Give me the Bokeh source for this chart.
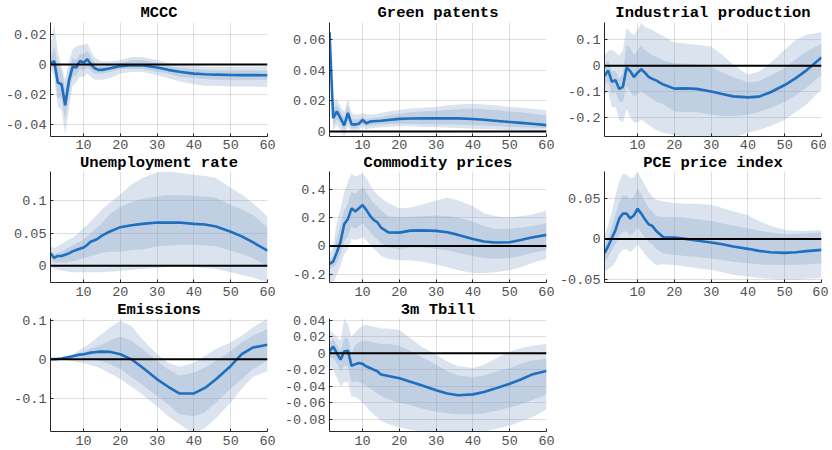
from bokeh.plotting import figure
from bokeh.layouts import gridplot
from bokeh.models import Range1d, FixedTicker, Span
from bokeh.embed import file_html
from bokeh.resources import INLINE

# ---------------- data ----------------
HORIZON = [1, 2, 3, 4, 5, 6, 7, 8, 9, 10, 11, 12, 13, 14, 15,
           17, 20, 23, 26, 30, 33, 36, 40, 43, 46, 50, 53, 56, 60]
X_TICKS = [10, 20, 30, 40, 50, 60]

TITLES = ["MCCC", "Green patents", "Industrial production", "Unemployment rate",
          "Commodity prices", "PCE price index", "Emissions", "3m Tbill"]

# MCCC
mccc_mid = [0.0007, 0.0024, -0.012, -0.013, -0.027, -0.011, -0.0015, -0.002, 0.0024, 0.0013, 0.0035, 0.0002, -0.0024, -0.0035, -0.0035,
            -0.0026, -0.001, -0.0005, -0.0005, -0.002, -0.0035, -0.0048, -0.006, -0.0064, -0.0067, -0.0069, -0.007, -0.007, -0.0071]
mccc_out_hi = [0.012, 0.027, 0.008, -0.001, -0.010, 0.002, 0.010, 0.012, 0.013, 0.013, 0.014, 0.009, 0.005, 0.003, 0.002,
               0.002, 0.003, 0.005, 0.005, 0.003, 0.001, 0.000, -0.001, -0.0015, -0.0015, -0.0015, -0.0015, -0.0015, -0.001]
mccc_in_hi = [0.004, 0.012, 0.000, -0.004, -0.016, -0.004, 0.004, 0.003, 0.007, 0.007, 0.009, 0.005, 0.001, -0.001, -0.001,
              -0.0005, 0.001, 0.003, 0.003, 0.001, -0.001, -0.002, -0.003, -0.0035, -0.004, -0.004, -0.004, -0.004, -0.004]
mccc_in_lo = [-0.001, -0.003, -0.022, -0.022, -0.037, -0.020, -0.008, -0.007, -0.003, -0.004, -0.002, -0.004, -0.006, -0.006, -0.006,
              -0.005, -0.003, -0.003, -0.003, -0.005, -0.006, -0.008, -0.009, -0.0095, -0.010, -0.010, -0.010, -0.010, -0.010]
mccc_out_lo = [-0.003, -0.008, -0.028, -0.030, -0.046, -0.030, -0.014, -0.012, -0.008, -0.008, -0.006, -0.008, -0.010, -0.010, -0.010,
               -0.009, -0.006, -0.005, -0.005, -0.007, -0.009, -0.011, -0.013, -0.014, -0.014, -0.0145, -0.0145, -0.0145, -0.015]
mccc_yticks = [-0.04, -0.02, 0, 0.02]
mccc_ylabels = ["-0.04", "-0.02", "0", "0.02"]
mccc_ylim = (-0.0477, 0.0279)

# Green patents
green_mid = [0.0647, 0.0086, 0.013, 0.0086, 0.004, 0.012, 0.0046, 0.0046, 0.005, 0.0075, 0.0053, 0.0064, 0.0066, 0.0068, 0.007,
             0.0075, 0.0082, 0.0084, 0.0085, 0.0085, 0.0085, 0.0085, 0.0081, 0.0076, 0.007, 0.0062, 0.0056, 0.005, 0.0041]
green_out_hi = [0.066, 0.021, 0.021, 0.016, 0.013, 0.021, 0.012, 0.011, 0.011, 0.012, 0.011, 0.011, 0.011, 0.0115, 0.012,
                0.013, 0.014, 0.015, 0.0155, 0.016, 0.017, 0.0175, 0.018, 0.0175, 0.017, 0.016, 0.0155, 0.0148, 0.0138]
green_in_hi = [0.0655, 0.015, 0.017, 0.013, 0.009, 0.017, 0.008, 0.008, 0.008, 0.0095, 0.008, 0.0085, 0.0088, 0.009, 0.0093,
               0.0105, 0.0115, 0.0125, 0.013, 0.0135, 0.014, 0.0145, 0.0148, 0.0145, 0.014, 0.013, 0.0125, 0.0115, 0.0105]
green_in_lo = [0.064, 0.004, 0.008, 0.005, 0.001, 0.007, 0.002, 0.002, 0.003, 0.005, 0.003, 0.004, 0.004, 0.0045, 0.0045,
               0.0048, 0.005, 0.005, 0.0048, 0.0045, 0.0045, 0.0045, 0.004, 0.0038, 0.0035, 0.003, 0.0028, 0.0025, 0.0022]
green_out_lo = [0.063, 0.001, 0.004, 0.001, -0.003, 0.003, 0.000, 0.000, 0.001, 0.003, 0.001, 0.002, 0.002, 0.0025, 0.0027,
                0.003, 0.0033, 0.0033, 0.003, 0.0028, 0.0025, 0.0022, 0.0018, 0.0015, 0.0012, 0.0008, 0.0005, 0.0002, 0.0]
green_yticks = [0, 0.02, 0.04, 0.06]
green_ylabels = ["0", "0.02", "0.04", "0.06"]
green_ylim = (-0.0033, 0.071)

# Industrial production
ip_mid = [-0.040, -0.018, -0.062, -0.056, -0.090, -0.082, -0.008, -0.021, -0.044, -0.027, -0.014, -0.027, -0.043, -0.051, -0.057,
          -0.073, -0.089, -0.088, -0.090, -0.100, -0.110, -0.119, -0.123, -0.120, -0.104, -0.075, -0.048, -0.017, 0.032]
ip_out_hi = [0.043, 0.057, 0.062, 0.05, 0.04, 0.06, 0.147, 0.13, 0.12, 0.14, 0.166, 0.15, 0.145, 0.14, 0.13,
             0.115, 0.09, 0.086, 0.082, 0.075, 0.043, 0.004, -0.035, -0.022, 0.01, 0.062, 0.1, 0.12, 0.13]
ip_in_hi = [0.0, 0.02, -0.02, -0.02, -0.05, -0.03, 0.08, 0.07, 0.04, 0.06, 0.08, 0.06, 0.05, 0.04, 0.035,
            0.02, 0.01, 0.008, 0.005, -0.005, -0.025, -0.045, -0.065, -0.06, -0.04, -0.01, 0.025, 0.055, 0.085]
ip_in_lo = [-0.08, -0.06, -0.11, -0.10, -0.14, -0.14, -0.08, -0.10, -0.12, -0.11, -0.10, -0.11, -0.12, -0.13, -0.14,
            -0.15, -0.178, -0.18, -0.18, -0.19, -0.195, -0.195, -0.19, -0.18, -0.165, -0.14, -0.115, -0.085, -0.035]
ip_out_lo = [-0.11, -0.10, -0.16, -0.16, -0.21, -0.22, -0.17, -0.20, -0.22, -0.22, -0.21, -0.22, -0.23, -0.24, -0.25,
             -0.26, -0.27, -0.275, -0.28, -0.285, -0.285, -0.28, -0.26, -0.25, -0.235, -0.21, -0.18, -0.15, -0.09]
ip_yticks = [-0.2, -0.1, 0, 0.1]
ip_ylabels = ["-0.2", "-0.1", "0", "0.1"]
ip_ylim = (-0.275, 0.168)

# Unemployment rate
un_mid = [0.019, 0.012, 0.015, 0.015, 0.017, 0.019, 0.022, 0.024, 0.026, 0.028, 0.032, 0.037, 0.039, 0.042, 0.046,
          0.052, 0.059, 0.062, 0.064, 0.066, 0.066, 0.066, 0.064, 0.063, 0.060, 0.052, 0.045, 0.036, 0.023]
un_out_hi = [0.03, 0.027, 0.03, 0.033, 0.037, 0.04, 0.043, 0.047, 0.052, 0.058, 0.062, 0.068, 0.074, 0.08, 0.086,
             0.096, 0.109, 0.124, 0.134, 0.143, 0.144, 0.142, 0.139, 0.137, 0.134, 0.119, 0.109, 0.096, 0.075]
un_in_hi = [0.022, 0.018, 0.02, 0.022, 0.025, 0.028, 0.031, 0.034, 0.037, 0.04, 0.045, 0.05, 0.055, 0.06, 0.065,
            0.078, 0.09, 0.097, 0.102, 0.106, 0.108, 0.108, 0.107, 0.106, 0.104, 0.093, 0.086, 0.078, 0.058]
un_in_lo = [0.012, 0.005, 0.005, 0.005, 0.005, 0.006, 0.007, 0.008, 0.01, 0.012, 0.013, 0.015, 0.016, 0.018, 0.02,
            0.021, 0.022, 0.024, 0.025, 0.03, 0.031, 0.032, 0.032, 0.031, 0.03, 0.023, 0.018, 0.012, -0.001]
un_out_lo = [0.0, -0.005, -0.006, -0.007, -0.008, -0.009, -0.01, -0.01, -0.01, -0.01, -0.01, -0.01, -0.01, -0.01, -0.01,
             -0.009, -0.008, -0.006, -0.005, -0.003, -0.002, -0.002, -0.002, -0.003, -0.005, -0.01, -0.014, -0.018, -0.025]
un_yticks = [0, 0.05, 0.1]
un_ylabels = ["0", "0.05", "0.1"]
un_ylim = (-0.0255, 0.144)

# Commodity prices
cp_mid = [-0.127, -0.11, -0.045, 0.03, 0.153, 0.19, 0.265, 0.242, 0.265, 0.289, 0.254, 0.214, 0.183, 0.167, 0.129,
          0.096, 0.094, 0.108, 0.11, 0.106, 0.096, 0.078, 0.049, 0.031, 0.024, 0.026, 0.042, 0.059, 0.078]
cp_out_hi = [-0.06, 0.0, 0.17, 0.26, 0.38, 0.45, 0.51, 0.49, 0.50, 0.51, 0.48, 0.43, 0.39, 0.36, 0.34,
             0.30, 0.265, 0.27, 0.29, 0.32, 0.34, 0.32, 0.28, 0.23, 0.21, 0.20, 0.21, 0.22, 0.25]
cp_in_hi = [-0.1, -0.07, 0.05, 0.15, 0.25, 0.30, 0.38, 0.37, 0.39, 0.41, 0.38, 0.34, 0.30, 0.28, 0.25,
            0.21, 0.20, 0.205, 0.21, 0.215, 0.21, 0.20, 0.17, 0.14, 0.12, 0.12, 0.13, 0.14, 0.16]
cp_in_lo = [-0.16, -0.15, -0.12, -0.06, 0.03, 0.07, 0.14, 0.12, 0.14, 0.16, 0.13, 0.10, 0.07, 0.05, 0.02,
            -0.01, -0.02, -0.01, -0.01, -0.02, -0.03, -0.05, -0.07, -0.085, -0.09, -0.085, -0.07, -0.05, -0.03]
cp_out_lo = [-0.26, -0.26, -0.20, -0.14, -0.06, -0.02, 0.05, 0.04, 0.05, 0.06, 0.04, 0.01, -0.02, -0.04, -0.07,
             -0.09, -0.10, -0.10, -0.11, -0.13, -0.15, -0.17, -0.19, -0.19, -0.185, -0.17, -0.15, -0.12, -0.09]
cp_yticks = [-0.2, 0, 0.2, 0.4]
cp_ylabels = ["-0.2", "0", "0.2", "0.4"]
cp_ylim = (-0.257, 0.524)

# PCE price index
pce_mid = [-0.0175, -0.009, 0.001, 0.011, 0.025, 0.031, 0.031, 0.025, 0.029, 0.037, 0.031, 0.024, 0.018, 0.016, 0.010,
           0.002, 0.0016, 0.0, -0.002, -0.0045, -0.0065, -0.0094, -0.0122, -0.0147, -0.0163, -0.0171, -0.0163, -0.015, -0.0135]
pce_out_hi = [0.005, 0.017, 0.033, 0.054, 0.07, 0.08, 0.079, 0.074, 0.076, 0.082, 0.074, 0.066, 0.058, 0.052, 0.048,
              0.046, 0.044, 0.043, 0.043, 0.042, 0.038, 0.034, 0.029, 0.022, 0.016, 0.011, 0.01, 0.01, 0.011]
pce_in_hi = [-0.008, 0.002, 0.015, 0.03, 0.045, 0.053, 0.053, 0.048, 0.052, 0.062, 0.055, 0.046, 0.038, 0.034, 0.028,
             0.027, 0.027, 0.026, 0.024, 0.022, 0.019, 0.016, 0.013, 0.010, 0.008, 0.006, 0.006, 0.007, 0.008]
pce_in_lo = [-0.028, -0.022, -0.014, -0.006, 0.004, 0.009, 0.009, 0.004, 0.008, 0.014, 0.008, 0.002, -0.004, -0.007, -0.012,
             -0.018, -0.0196, -0.021, -0.022, -0.024, -0.026, -0.028, -0.030, -0.031, -0.032, -0.032, -0.032, -0.031, -0.030]
pce_out_lo = [-0.04, -0.037, -0.034, -0.028, -0.018, -0.013, -0.013, -0.016, -0.012, -0.007, -0.013, -0.019, -0.024, -0.028, -0.032,
              -0.031, -0.032, -0.034, -0.036, -0.038, -0.041, -0.044, -0.046, -0.048, -0.049, -0.05, -0.05, -0.049, -0.048]
pce_yticks = [-0.05, 0, 0.05]
pce_ylabels = ["-0.05", "0", "0.05"]
pce_ylim = (-0.0535, 0.0827)

# Emissions
em_mid = [0.000, 0.0005, 0.001, 0.002, 0.004, 0.006, 0.008, 0.010, 0.012, 0.013, 0.015, 0.017, 0.018, 0.019, 0.0195,
          0.019, 0.013, 0.000, -0.021, -0.051, -0.070, -0.087, -0.087, -0.073, -0.051, -0.017, 0.013, 0.030, 0.037]
em_out_hi = [0.0, 0.001, 0.002, 0.004, 0.006, 0.009, 0.012, 0.018, 0.024, 0.03, 0.036, 0.043, 0.05, 0.058, 0.065,
             0.08, 0.098, 0.085, 0.051, 0.013, -0.009, -0.019, -0.009, 0.009, 0.026, 0.043, 0.06, 0.081, 0.104]
em_in_hi = [0.0, 0.0008, 0.0015, 0.003, 0.005, 0.007, 0.01, 0.013, 0.016, 0.02, 0.024, 0.028, 0.031, 0.034, 0.038,
            0.047, 0.058, 0.047, 0.026, -0.004, -0.026, -0.041, -0.034, -0.021, -0.004, 0.021, 0.043, 0.06, 0.077]
em_in_lo = [0.0, 0.0002, 0.0005, 0.001, 0.002, 0.003, 0.004, 0.004, 0.004, 0.003, 0.002, 0.001, -0.001, -0.003, -0.005,
            -0.012, -0.025, -0.045, -0.065, -0.094, -0.115, -0.14, -0.145, -0.135, -0.11, -0.075, -0.05, -0.025, -0.003]
em_out_lo = [0.0, 0.0, -0.001, -0.001, -0.002, -0.003, -0.004, -0.006, -0.008, -0.01, -0.012, -0.015, -0.018, -0.021, -0.025,
             -0.035, -0.05, -0.07, -0.09, -0.12, -0.145, -0.165, -0.19, -0.175, -0.15, -0.11, -0.075, -0.045, -0.03]
em_yticks = [-0.1, 0, 0.1]
em_ylabels = ["-0.1", "0", "0.1"]
em_ylim = (-0.184, 0.104)

# 3m Tbill
tb_mid = [0.002, 0.008, 0.0, -0.008, 0.002, 0.003, -0.0155, -0.0134, -0.012, -0.013, -0.016, -0.018, -0.020, -0.022, -0.026,
          -0.0277, -0.0305, -0.0346, -0.039, -0.045, -0.049, -0.051, -0.050, -0.047, -0.043, -0.037, -0.032, -0.026, -0.0216]
tb_out_hi = [0.028, 0.024, 0.02, 0.015, 0.042, 0.035, 0.02, 0.025, 0.03, 0.033, 0.034, 0.033, 0.032, 0.031, 0.030,
             0.03, 0.028, 0.018, 0.008, -0.002, -0.01, -0.016, -0.018, -0.014, -0.007, 0.002, 0.006, 0.009, 0.011]
tb_in_hi = [0.012, 0.018, 0.01, 0.003, 0.018, 0.018, 0.0, 0.01, 0.013, 0.015, 0.015, 0.014, 0.013, 0.012, 0.011,
            0.011, 0.009, 0.003, -0.005, -0.014, -0.022, -0.027, -0.029, -0.027, -0.023, -0.018, -0.013, -0.009, -0.007]
tb_in_lo = [-0.006, -0.006, -0.012, -0.022, -0.015, -0.016, -0.035, -0.034, -0.035, -0.037, -0.04, -0.043, -0.046, -0.049, -0.052,
            -0.056, -0.06, -0.063, -0.067, -0.071, -0.073, -0.074, -0.074, -0.073, -0.07, -0.066, -0.062, -0.057, -0.05]
tb_out_lo = [-0.015, -0.02, -0.03, -0.04, -0.035, -0.035, -0.053, -0.053, -0.056, -0.06, -0.065, -0.07, -0.074, -0.078, -0.082,
             -0.086, -0.09, -0.093, -0.095, -0.097, -0.097, -0.097, -0.097, -0.095, -0.092, -0.088, -0.083, -0.078, -0.068]
tb_yticks = [-0.08, -0.06, -0.04, -0.02, 0, 0.02, 0.04]
tb_ylabels = ["-0.08", "-0.06", "-0.04", "-0.02", "0", "0.02", "0.04"]
tb_ylim = (-0.095, 0.042)

PANELS = [
    (mccc_mid, mccc_in_lo, mccc_in_hi, mccc_out_lo, mccc_out_hi, mccc_yticks, mccc_ylabels, mccc_ylim),
    (green_mid, green_in_lo, green_in_hi, green_out_lo, green_out_hi, green_yticks, green_ylabels, green_ylim),
    (ip_mid, ip_in_lo, ip_in_hi, ip_out_lo, ip_out_hi, ip_yticks, ip_ylabels, ip_ylim),
    (un_mid, un_in_lo, un_in_hi, un_out_lo, un_out_hi, un_yticks, un_ylabels, un_ylim),
    (cp_mid, cp_in_lo, cp_in_hi, cp_out_lo, cp_out_hi, cp_yticks, cp_ylabels, cp_ylim),
    (pce_mid, pce_in_lo, pce_in_hi, pce_out_lo, pce_out_hi, pce_yticks, pce_ylabels, pce_ylim),
    (em_mid, em_in_lo, em_in_hi, em_out_lo, em_out_hi, em_yticks, em_ylabels, em_ylim),
    (tb_mid, tb_in_lo, tb_in_hi, tb_out_lo, tb_out_hi, tb_yticks, tb_ylabels, tb_ylim),
]

# ---------------- style ----------------
LINE_COLOR = "#1f6fbf"
BAND_COLOR = "#84a2c6"
AXIS_COLOR = "#262626"
MONO = "Liberation Mono"
FRAME_W = 217
BORDER_L = [50, 46, 46]
BORDER_R = [14, 10, 7]
FRAME_H = [114, 111, 113]
TITLE_STANDOFF = [2, 0, 0]
XLABEL_STANDOFF = [3, 4, 4]

figs = []
for i, (title, panel) in enumerate(zip(TITLES, PANELS)):
    mid, in_lo, in_hi, out_lo, out_hi, yticks, ylabels, ylim = panel
    col = i % 3
    row = i // 3
    p = figure(frame_width=FRAME_W, frame_height=FRAME_H[row],
               x_range=Range1d(1, 60), y_range=Range1d(*ylim),
               output_backend="svg", toolbar_location=None,
               min_border_left=BORDER_L[col], min_border_right=BORDER_R[col],
               min_border_top=0, min_border_bottom=0,
               title=title)
    p.title.align = "center"
    p.title.text_font = MONO
    p.title.text_font_style = "bold"
    p.title.text_font_size = "15.5px"
    p.title.text_color = "black"
    p.title.standoff = TITLE_STANDOFF[row]
    p.outline_line_color = None
    p.background_fill_color = "white"
    p.border_fill_color = "white"

    p.xaxis.ticker = FixedTicker(ticks=X_TICKS)
    p.yaxis.ticker = FixedTicker(ticks=yticks)
    p.yaxis.major_label_overrides = {t: s for t, s in zip(yticks, ylabels)}
    p.xgrid.ticker = FixedTicker(ticks=X_TICKS)
    p.ygrid.ticker = FixedTicker(ticks=yticks)
    for ax in (p.xaxis, p.yaxis):
        ax.axis_line_color = AXIS_COLOR
        ax.axis_line_width = 1
        ax.major_tick_in = 3
        ax.major_tick_out = 0
        ax.major_tick_line_color = AXIS_COLOR
        ax.minor_tick_line_color = None
        ax.major_label_text_font = MONO
        ax.major_label_text_font_size = "13.5px"
        ax.major_label_text_color = "#505050"
    p.xaxis.major_label_standoff = XLABEL_STANDOFF[row]
    p.yaxis.major_label_standoff = 4
    for g in (p.xgrid, p.ygrid):
        g.grid_line_color = AXIS_COLOR
        g.grid_line_alpha = 0.15

    p.varea(x=HORIZON, y1=out_lo, y2=out_hi, fill_color=BAND_COLOR, fill_alpha=0.3)
    p.varea(x=HORIZON, y1=in_lo, y2=in_hi, fill_color=BAND_COLOR, fill_alpha=0.3)
    p.add_layout(Span(location=0, dimension="width", line_color="black", line_width=2))
    p.line(x=HORIZON, y=mid, line_color=LINE_COLOR, line_width=2.6)
    figs.append(p)

grid = gridplot([figs[0:3], figs[3:6], [figs[6], figs[7], None]], toolbar_location=None)

open("out.html", "w").write(file_html(grid, INLINE))
